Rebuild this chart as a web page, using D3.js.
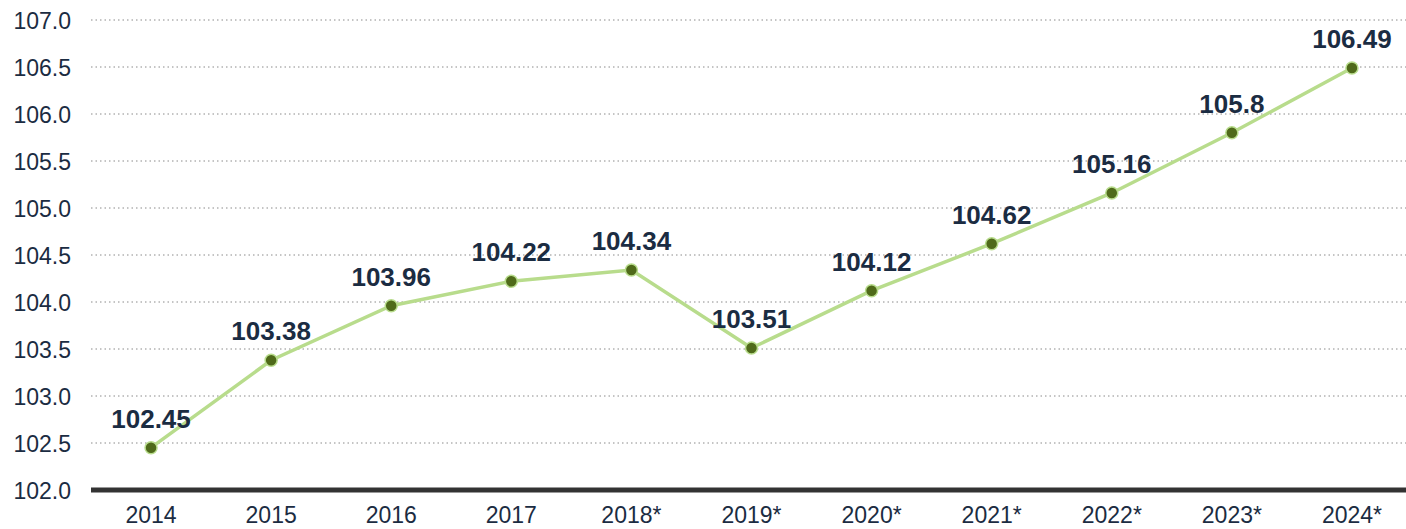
<!DOCTYPE html>
<html><head><meta charset="utf-8">
<script src="https://cdn.jsdelivr.net/npm/d3@7"></script>
<style>body{margin:0;background:#fff;}svg{display:block;font-family:"Liberation Sans",Arial,sans-serif;}</style>
</head><body><svg id="c" width="1406" height="529"></svg>
<script>
const years = ["2014","2015","2016","2017","2018*","2019*","2020*","2021*","2022*","2023*","2024*"];
const values = [102.45,103.38,103.96,104.22,104.34,103.51,104.12,104.62,105.16,105.8,106.49];
const yTicks = [102.0,102.5,103.0,103.5,104.0,104.5,105.0,105.5,106.0,106.5,107.0];

const svg = d3.select("#c");
const x = d3.scaleBand().domain(years).range([91,1412]);
const y = d3.scaleLinear().domain([102,107]).range([490,20]);
const textCol = "#1b2c42";
const ff = "Liberation Sans, Arial, sans-serif";

// gridlines
svg.append("g").selectAll("line").data(yTicks.slice(1)).join("line")
  .attr("x1",91).attr("x2",1406).attr("y1",d=>y(d)).attr("y2",d=>y(d))
  .attr("stroke","#8a8a8a").attr("stroke-width",1).attr("stroke-dasharray","1.5,3");

// y labels
const yAxis = d3.axisLeft(y).tickValues(yTicks).tickFormat(d3.format(".1f")).tickSize(0).tickPadding(0);
const gy = svg.append("g").attr("transform","translate(71,0)").call(yAxis);
gy.select(".domain").remove();
gy.selectAll("text").attr("font-size",23).attr("fill",textCol).attr("font-family",ff).attr("dy","0.35em");

// x axis
const xAxis = d3.axisBottom(x).tickSize(0).tickPadding(0);
const gx = svg.append("g").attr("transform","translate(0,490)").call(xAxis);
gx.select(".domain").remove();
gx.selectAll("text").attr("font-size",23).attr("fill",textCol).attr("dy",0).attr("y",33).attr("font-family",ff);
svg.append("line").attr("x1",91).attr("x2",1406).attr("y1",490).attr("y2",490)
  .attr("stroke","#333333").attr("stroke-width",5);

const cx = d => x(d) + x.bandwidth()/2;
const line = d3.line().x((d,i)=>cx(years[i])).y(d=>y(d));
svg.append("path").datum(values).attr("d",line).attr("fill","none")
  .attr("stroke","#b8dc8c").attr("stroke-width",3.5);

svg.append("g").selectAll("circle").data(values).join("circle")
  .attr("cx",(d,i)=>cx(years[i])).attr("cy",d=>y(d)).attr("r",6)
  .attr("fill","#4f6a1a").attr("stroke","#b8dc8c").attr("stroke-width",1.5);

svg.append("g").selectAll("text").data(values).join("text")
  .attr("x",(d,i)=>cx(years[i])).attr("y",d=>y(d)-20)
  .attr("text-anchor","middle").attr("font-size",26).attr("font-weight","bold")
  .attr("fill",textCol).attr("font-family",ff).text(d=>d);
</script></body></html>
